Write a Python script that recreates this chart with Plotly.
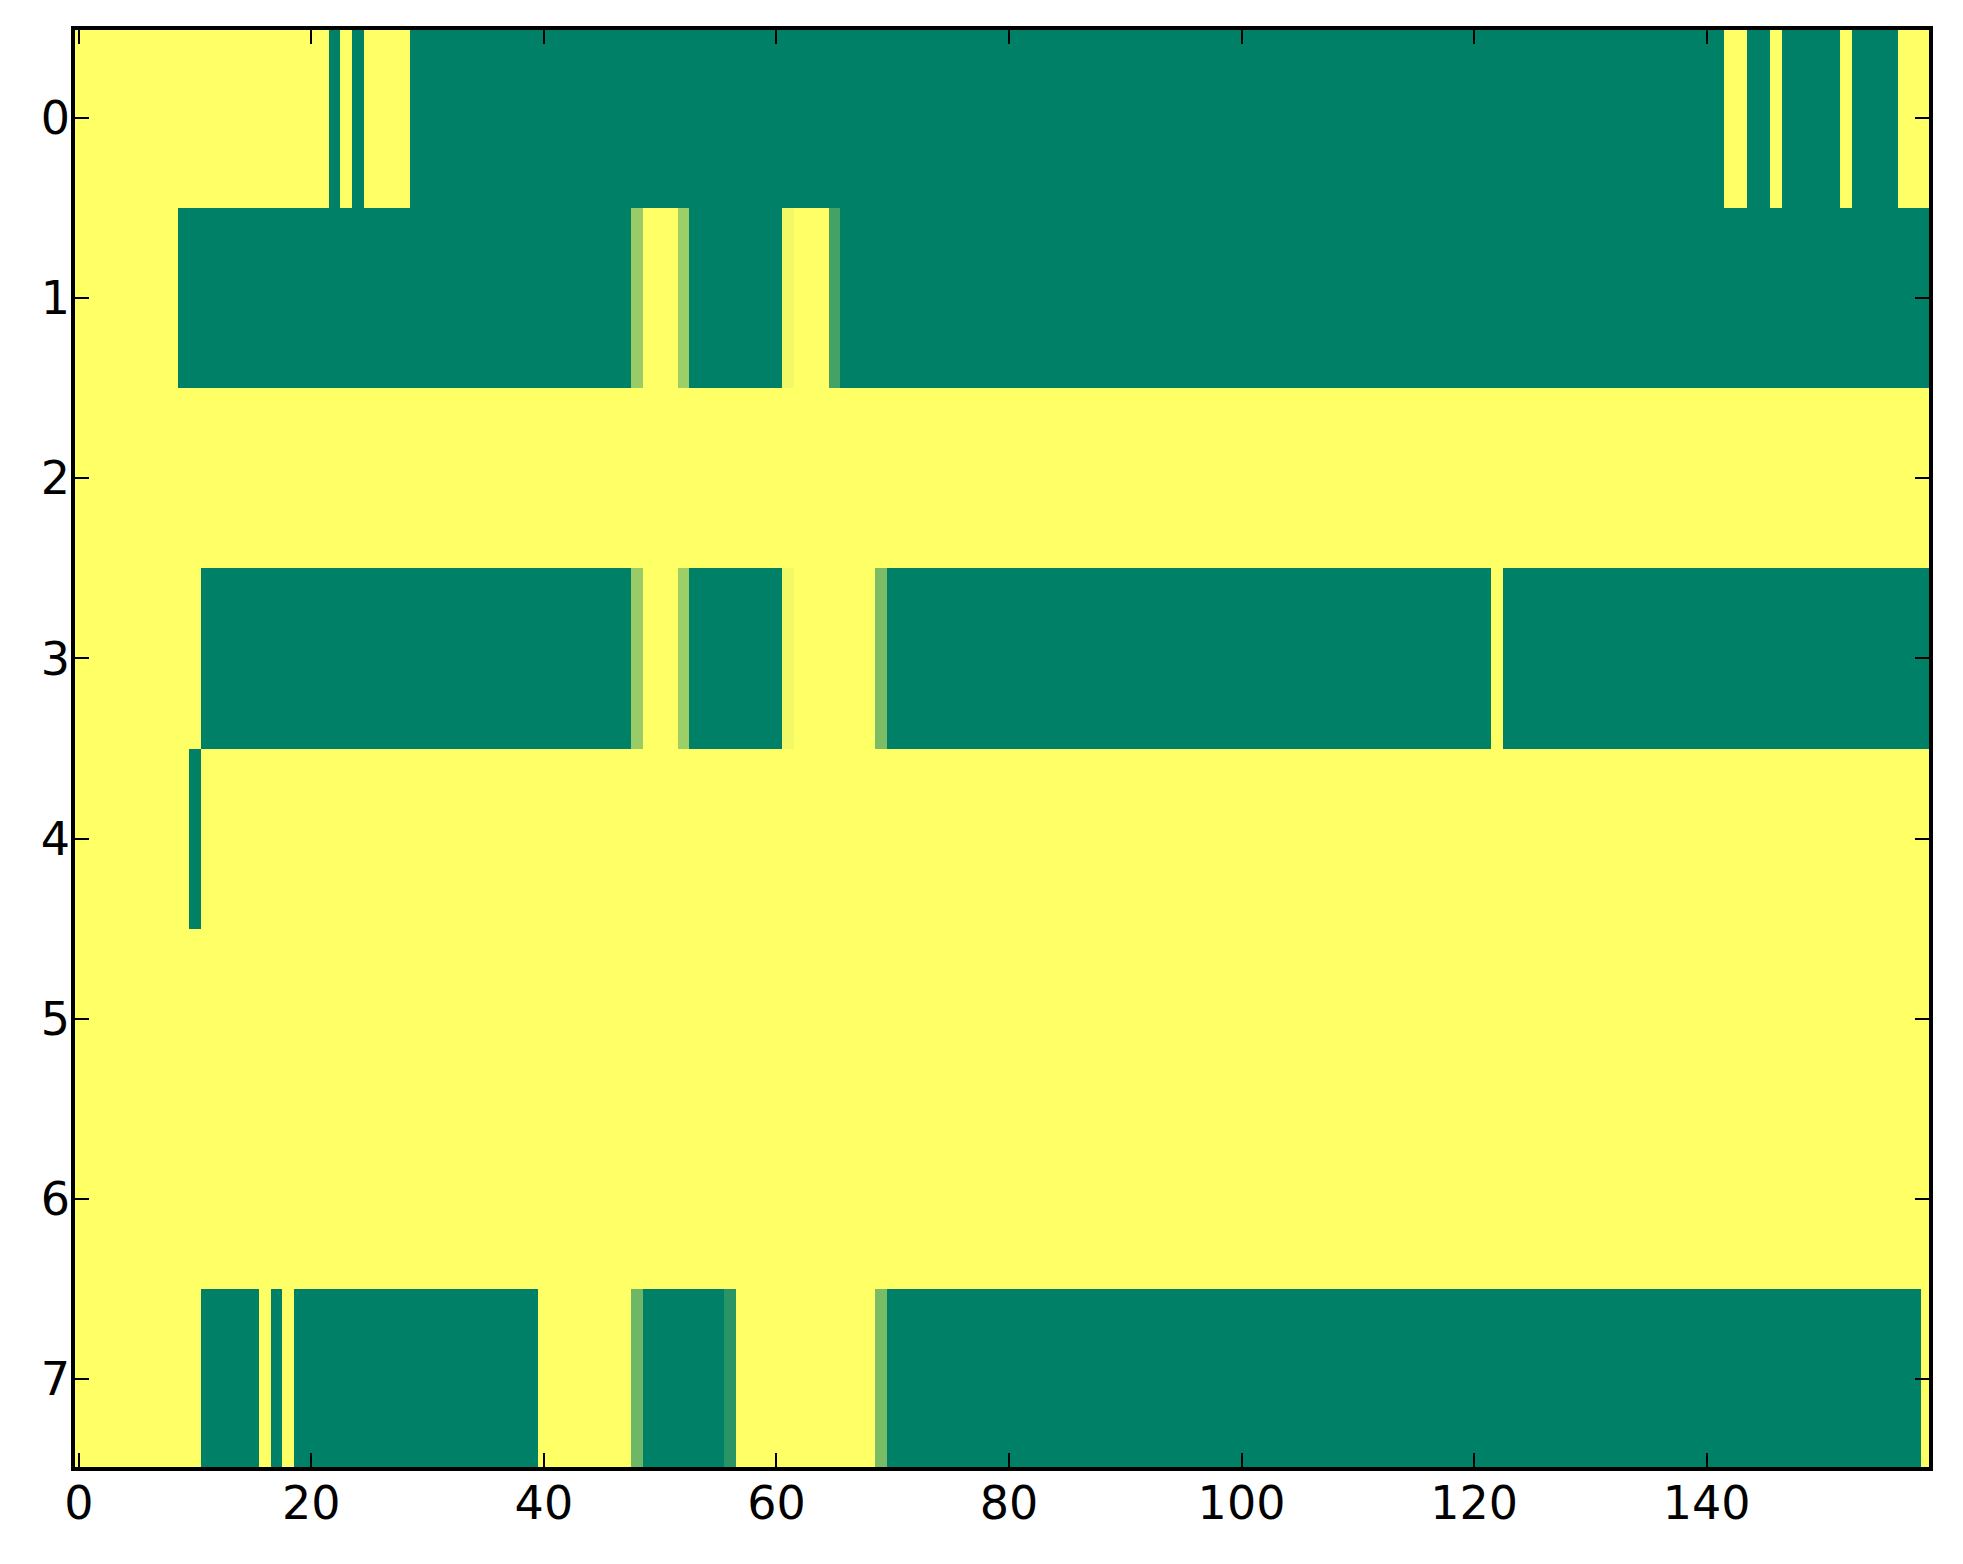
import plotly.graph_objects as go

# Each row given as run-lengths: (value, number of columns); 160 columns per row
row0_runs = [(1, 22), (0, 1), (1, 1), (0, 1), (1, 4), (0, 113), (1, 2), (0, 2), (1, 1), (0, 5), (1, 1), (0, 4), (1, 3)]
row1_runs = [(1, 9), (0, 39), (0.6, 1), (1, 3), (0.62, 1), (0, 8), (0.95, 1), (1, 3), (0.27, 1), (0, 94)]
row2_runs = [(1, 160)]
row3_runs = [(1, 11), (0, 37), (0.6, 1), (1, 3), (0.62, 1), (0, 8), (0.95, 1), (1, 7), (0.48, 1), (0, 52), (1, 1), (0, 37)]
row4_runs = [(1, 10), (0, 1), (1, 149)]
row5_runs = [(1, 160)]
row6_runs = [(1, 160)]
row7_runs = [(1, 11), (0, 5), (1, 1), (0, 1), (1, 1), (0, 21), (1, 8), (0.43, 1), (0, 7), (0.16, 1), (1, 12), (0.47, 1), (0, 89), (1, 1)]

row_runs = [row0_runs, row1_runs, row2_runs, row3_runs, row4_runs, row5_runs, row6_runs, row7_runs]
row_labels = [0, 1, 2, 3, 4, 5, 6, 7]
x_ticks = [0, 20, 40, 60, 80, 100, 120, 140]


def expand(runs):
    out = []
    for v, n in runs:
        out.extend([v] * n)
    return out


z = [expand(r) for r in row_runs]
ncols = len(z[0])

summer = [[0.0, "rgb(0,128,102)"], [1.0, "rgb(255,255,102)"]]

fig = go.Figure(
    go.Heatmap(
        z=z,
        x=list(range(ncols)),
        y=row_labels,
        colorscale=summer,
        zmin=0,
        zmax=1,
        showscale=False,
        hoverinfo="skip",
    )
)

axis_common = dict(
    showline=False,
    mirror="ticks",
    ticks="inside",
    ticklen=16,
    tickwidth=1.5,
    tickcolor="black",
    showgrid=False,
    zeroline=False,
    tickfont=dict(family="DejaVu Sans", size=46, color="black"),
)

fig.update_xaxes(range=[-0.5, 159.3], tickvals=x_ticks, ticktext=[str(t) for t in x_ticks],
                 ticklabelstandoff=3, **axis_common)
fig.update_yaxes(range=[7.5, -0.5], tickvals=row_labels, ticktext=[str(t) for t in row_labels],
                 ticklabelstandoff=2, **axis_common)

# frame centred on the plot-area edges
fig.add_shape(type="rect", xref="paper", yref="paper", x0=0, x1=1, y0=0, y1=1,
              line=dict(color="black", width=4), layer="above")

fig.update_layout(
    width=1955,
    height=1556,
    margin=dict(l=65, r=32, t=20, b=95),
    paper_bgcolor="white",
    plot_bgcolor="white",
)

fig.write_html("out.html")
